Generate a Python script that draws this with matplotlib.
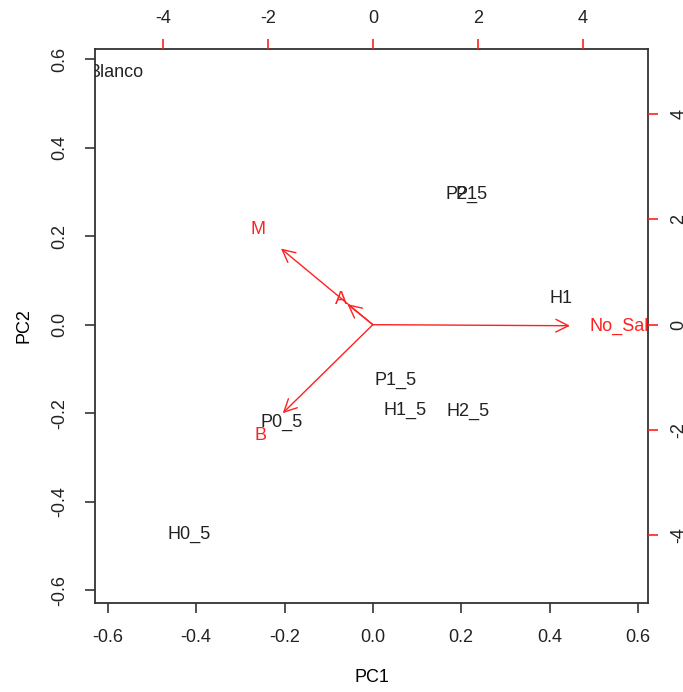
import numpy as np
import matplotlib
import matplotlib.pyplot as plt

matplotlib.use('agg')

# Scores (plotted on the top/right scale)
samples = ['Blanco', 'P2_5', 'P1', 'H1', 'P1_5', 'H1_5', 'H2_5', 'P0_5', 'H0_5']
score_pc1 = [-4.88, 1.79, 1.79, 3.58, 0.44, 0.61, 1.81, -1.73, -3.49]
score_pc2 = [4.80, 2.48, 2.48, 0.49, -1.06, -1.63, -1.65, -1.86, -3.98]

# Loadings (plotted on the bottom/left scale)
variables = ['No_Sal', 'M', 'A', 'B']
load_pc1 = [0.558, -0.26, -0.072, -0.255]
load_pc2 = [-0.003, 0.215, 0.058, -0.25]

xticks = [-0.6, -0.4, -0.2, 0.0, 0.2, 0.4, 0.6]
top_ticks = [-4, -2, 0, 2, 4]

plt.rcParams['font.family'] = ['Liberation Sans', 'DejaVu Sans']
plt.rcParams['font.size'] = 13
plt.rcParams['axes.unicode_minus'] = False

lim = (-0.629, 0.623)
ratio = 8.41
red = '#ff2020'
grey = '#333333'


def save_to_plot():
	fig = plt.figure(figsize=(6.83, 6.92), dpi=100)
	pos = [0.1391, 0.1286, 0.8097, 0.8006]
	ax = fig.add_axes(pos)
	ax.set_xlim(lim)
	ax.set_ylim(lim)
	ax.set_xticks(xticks)
	ax.set_yticks(xticks)
	ax.set_xticklabels(['-0.6', '-0.4', '-0.2', '0.0', '0.2', '0.4', '0.6'])
	ax.set_yticklabels(['-0.6', '-0.4', '-0.2', '0.0', '0.2', '0.4', '0.6'])
	ax.tick_params(length=7, width=1.2, color=grey, pad=12, labelcolor='#222222')
	for lab in ax.get_yticklabels():
		lab.set_rotation(90)
		lab.set_va('center')
	for s in ax.spines.values():
		s.set_color(grey)
		s.set_linewidth(1.3)
	ax.set_xlabel('PC1', labelpad=16)
	ax.set_ylabel('PC2', labelpad=14)

	# second coordinate system for the scores
	ax2 = fig.add_axes(pos, frameon=False)
	ax2.set_xlim(lim[0] * ratio, lim[1] * ratio)
	ax2.set_ylim(lim[0] * ratio, lim[1] * ratio)
	ax2.xaxis.tick_top()
	ax2.yaxis.tick_right()
	ax2.set_xticks(top_ticks)
	ax2.set_yticks(top_ticks)
	ax2.tick_params(length=7, width=1.2, color=red, pad=9, labelcolor='#222222')
	for lab in ax2.get_yticklabels():
		lab.set_rotation(90)
		lab.set_va('center')
		lab.set_ha('left')

	for name, x, y in zip(samples, score_pc1, score_pc2):
		ax2.text(x, y, name, ha='center', va='center', color='#222222', clip_on=True)

	# arrows drawn to 0.8 of the loadings, labels at the loadings
	for name, x, y in zip(variables, load_pc1, load_pc2):
		ax.annotate('', xy=(0.8 * x, 0.8 * y), xytext=(0, 0),
					arrowprops=dict(arrowstyle='->,head_length=0.7,head_width=0.35', color=red, lw=1, shrinkA=0, shrinkB=0))
		ax.text(x, y, name, ha='center', va='center', color=red, clip_on=True)

	plt.savefig('out.png', dpi=100)


save_to_plot()
